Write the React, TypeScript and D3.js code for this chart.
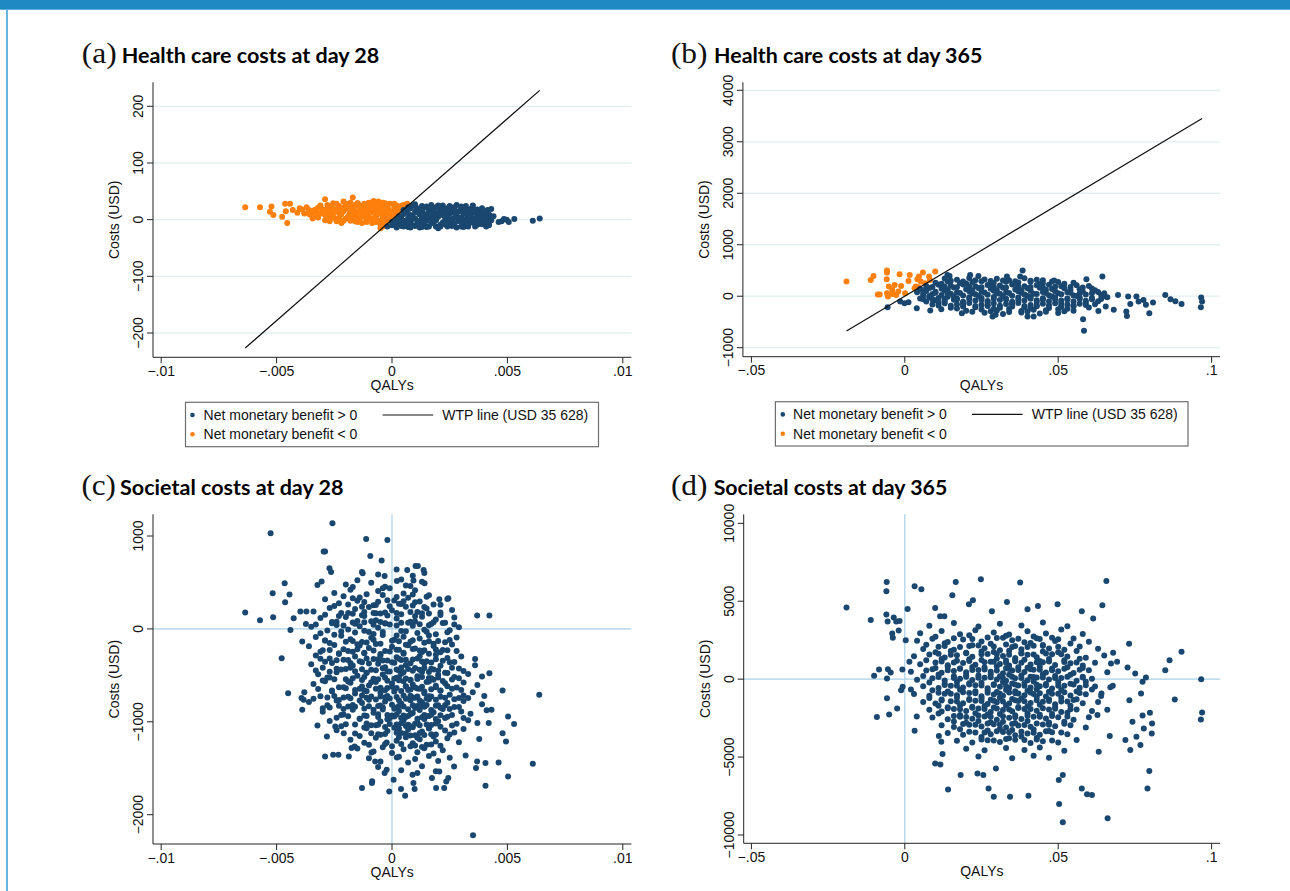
import React, { useEffect, useRef } from "react";
import * as d3 from "d3";

// willingness-to-pay threshold, USD per QALY
const WTP = 35628;
const NAVY = "#1a476f";
const ORANGE = "#fd7f0c";

type Pt = [number, number]; // [QALYs, costs USD]

// (a) health care costs at day 28
const healthDay28: Pt[] = [
  [-.00636,22],[-.00572,22],[-.00522,23],[-.00529,14],[-.00514,8],[-.00476,5],[-.00463,28],[-.00442,28],[-.00454,-6],[-.0046,15],
  [-.0043,17],[-.0041,12],[-.004,20],[-.0039,18],[-.0038,11],[-.0037,22],[-.0036,17],[-.0035,8],[-.00344,2],[-.0033,14],
  [-.0032,21],[-.00317,11],[-.0031,25],[-.003,18],[-.0029,36],[-.0029,-1],[-.0029,8],[-.0028,14],[-.0027,22],[-.0026,5],
  [-.00255,29],[-.00255,11],[-.0025,18],[-.0024,-3],[-.00237,17],[-.0023,24],[-.0022,9],[-.00219,-6],[-.0021,15],[-.00201,28],
  [-.002,2],[-.0019,20],[-.00184,11],[-.0018,-2],[-.0017,39],[-.0017,6],[-.00166,20],[-.0016,26],[-.0016,14],[-.0015,-4],
  [-.00148,29],[-.0015,9],[-.0014,17],[-.0014,1],[-.0013,-6],[-.0013,17],[-.0013,24],[-.0012,11],[-.0012,5],[-.0011,21],
  [-.0011,-2],[-.00103,8],[-.001,30],[-.001,15],[-.00094,29],[-.0009,2],[-.00086,-6],[-.0008,12],[-.00077,20],[-.0007,25],
  [-.0007,6],[-.0006,-2],[-.00059,32],[-.0006,16],[-.0005,11],[-.0005,22],[-.0004,3],[-.00041,23],[-.0004,-5],[-.0003,14],
  [-.0003,27],[-.0003,8],[-.00023,-1],[-.0002,19],[-.00014,17],[-.0001,10],[-.0001,2],[-.0001,28],[0,14],[0,5],
  [.0001,22],[.00012,11],[.0002,18],[.0002,25],[.0003,20],[.0003,13],[.0004,24],[.0004,17],[.0005,22],[.0005,26],
  [.00057,26],[.00066,28],[-.0009,24],[-.0011,13],[-.0017,23],[-.0019,4],[-.0021,21],[-.0023,12],[-.0025,3],[-.0027,17],
  [-.0033,18],[-.0034,5],[-.0021,32],[-.0018,30],[-.0008,33],[-.0006,28],[-.0004,30],[-.0012,28],[-.0014,10],[-.0007,-4],
  [-.0005,-8],[-.0002,-6],[-.0028,26],
  [-.0032,4],[-.0027,5],[-.0023,3],[-.0019,5],[-.0015,4],[-.0011,3],[-.0007,5],[-.0003,4],
  [-.0036,10],[-.0031,11],[-.0026,9],[-.0022,11],[-.0018,10],[-.0014,9],[-.001,11],[-.0006,10],[-.0002,9],[.0001,11],
  [-.0034,16],[-.0029,17],[-.0025,15],[-.0021,16],[-.0017,17],[-.0013,15],[-.0009,16],[-.0005,17],[-.0001,15],[.0002,16],
  [-.0031,22],[-.0026,23],[-.0022,21],[-.0018,22],[-.0014,23],[-.001,21],[-.0006,22],[-.0002,23],[.0003,22],
  [-.0024,28],[-.0019,27],[-.0015,29],[-.0011,28],[-.0007,27],[-.0003,29],[.0001,28],
  [-.0027,-3],[-.0021,-2],[-.0016,-3],[-.0011,-4],[-.0008,-2],[-.0004,-1],
  [-.0005,-15],[-.0004,-12],[-.0002,-12],[0,-10],[0,-4],[.0001,-8],[.0002,0],[.0002,-14],[.0003,-6],[.0004,4],
  [.0004,-11],[.0005,-2],[.0005,10],[.0006,-8],[.0006,14],[.0007,3],[.0007,-13],[.0008,20],[.0008,8],[.0008,-4],
  [.0009,25],[.0009,-10],[.001,14],[.001,2],[.001,27],[.0011,-6],[.0011,20],[.0012,9],[.0012,-14],[.0013,16],
  [.0013,1],[.0013,24],[.0014,-8],[.0014,10],[.0015,21],[.0015,-2],[.0015,5],[.0016,13],[.0016,-12],[.0017,26],
  [.0017,3],[.0018,17],[.0018,-6],[.0018,9],[.0019,22],[.0019,-1],[.002,12],[.002,-15],[.002,5],[.0021,19],
  [.0021,-9],[.0022,8],[.0022,25],[.0023,0],[.0023,14],[.0024,-12],[.0024,20],[.0024,6],[.0025,-4],[.0025,11],
  [.0026,17],[.0026,-9],[.0027,3],[.0027,22],[.0028,-14],[.0028,9],[.0029,15],[.0029,-3],[.003,4],[.003,20],
  [.0031,-8],[.0031,11],[.0032,24],[.0032,1],[.0033,14],[.0033,-12],[.0034,7],[.0034,19],[.0035,-5],[.0035,12],
  [.0036,2],[.0036,17],[.0037,-9],[.0037,9],[.0038,14],[.0038,-2],[.0039,5],[.0039,20],[.004,-4],[.004,11],
  [.0041,2],[.0041,15],[.0042,-10],[.0042,8],[.0043,19],[.0043,-1],[.0044,6],[.00414,17],[.00422,8],[.00408,-12],
  [.00462,-4],[.00475,-3],[.00497,0],[.00506,-4],[.0053,1],[.0061,-2],[.0064,2],[.00485,1],
  [.0008,-14],[.0012,-2],[.0016,5],[.002,24],[.0026,1],[.003,-12],[.0034,-5],[.0005,17],[.0007,22],[.0011,13],
  [.0019,-12],[.0023,-8],[.0027,12],[.0031,-2],[.0035,24],[.0039,-8],[.0041,-6],[.0028,26],[.0013,-13],[.0009,5],
  [.0005,-12],[.001,-11],[.0015,-13],[.0021,-12],[.0026,-11],[.0031,-13],[.0036,-12],
  [.0002,-6],[.0007,-5],[.0012,-7],[.0017,-6],[.0022,-5],[.0027,-7],[.0032,-6],[.0037,-5],[.0042,-7],
  [.0004,0],[.0009,1],[.0014,-1],[.0019,0],[.0024,1],[.0029,-1],[.0034,0],[.0039,1],
  [.0003,6],[.0008,7],[.0013,5],[.0018,6],[.0023,7],[.0028,5],[.0033,6],[.0038,7],[.0043,5],
  [.0006,12],[.0011,13],[.0016,11],[.0021,12],[.0026,13],[.0031,11],[.0036,12],[.0041,13],
  [.0007,18],[.0012,19],[.0017,17],[.0022,18],[.0027,19],[.0032,17],[.0037,18],
  [.001,24],[.0015,23],[.002,25],[.0025,24],[.003,23],[.0035,25]
];

// (b) health care costs at day 365
const healthDay365: Pt[] = [
  [-.019,285],[-.0111,317],[-.0102,395],[-.0058,498],[-.0058,460],[-.0059,330],[-.0052,188],[-.0088,32],[-.0082,32],[-.0055,-6],
  [-.0041,123],[-.0033,220],[-.0028,26],[-.0017,427],[-.0012,200],[.0001,58],[.0012,298],[.0016,414],[.0032,155],[.0041,330],
  [.0046,382],[.0052,285],[.0059,460],[.0066,252],[.0079,382],[.0099,479],[.0082,317],[.0044,175],[.0036,188],[-.0021,91],
  [-.0039,45],[-.0058,58],
  [-.0056,-214],[-.0015,-104],[-.0001,-136],[.0012,-117],[.0039,-233],[.0083,-278],[.0119,-252],[.0139,414],[.0146,395],[.0186,-330],
  [.0213,414],[.024,395],[.0286,-395],[.0296,-362],[.0333,382],[.0384,498],[.0376,382],[.04,-395],[.042,-395],[.0487,304],
  [.0581,-447],[.0584,-673],[.0592,330],[.0644,382],[.0695,26],[.0724,-382],[.0728,-6],[.0755,-6],[.0735,-149],[.0762,-104],
  [.0778,-71],[.0786,-168],[.0797,-330],[.0809,-123],[.0849,26],[.0866,-58],[.0882,-97],[.0902,-149],[.0966,-26],[.0969,-104],
  [.0965,-214],[.0722,-298],[.0681,-265],[.0655,-200],[.0631,-285],
  [.013,345],[.017,318],[.021,352],[.026,326],[.03,340],[.034,312],[.039,348],[.043,322],
  [.01,262],[.014,284],[.018,255],[.022,278],[.025,290],[.029,258],[.033,281],[.037,266],[.041,288],[.045,252],[.05,275],[.055,260],
  [.007,198],[.011,222],[.015,205],[.019,230],[.023,194],[.027,218],[.031,207],[.035,226],[.039,196],[.043,215],[.047,224],[.051,192],[.056,212],[.06,200],
  [.005,138],[.008,162],[.012,145],[.016,170],[.02,134],[.024,158],[.028,147],[.032,166],[.036,131],[.04,155],[.044,164],[.048,140],[.052,156],[.057,136],[.061,150],
  [.004,78],[.007,102],[.01,85],[.013,110],[.017,74],[.021,98],[.025,87],[.029,106],[.033,71],[.037,95],[.041,104],[.045,80],[.049,96],[.053,76],[.058,92],[.063,84],
  [.006,18],[.009,42],[.012,25],[.015,50],[.019,14],[.023,38],[.027,27],[.031,46],[.035,11],[.039,35],[.043,44],[.047,20],[.051,36],[.055,16],[.059,32],[.064,24],
  [.005,-42],[.008,-18],[.011,-35],[.014,-10],[.017,-46],[.021,-22],[.025,-33],[.029,-14],[.033,-49],[.037,-25],[.041,-16],[.045,-40],[.049,-24],[.053,-44],[.057,-28],[.061,-36],[.066,-20],
  [.007,-102],[.01,-78],[.013,-95],[.016,-70],[.019,-106],[.023,-82],[.027,-93],[.031,-74],[.035,-109],[.039,-85],[.043,-76],[.047,-100],[.051,-84],[.055,-104],[.059,-88],[.063,-96],
  [.009,-162],[.013,-138],[.017,-155],[.021,-130],[.025,-166],[.029,-142],[.033,-153],[.037,-134],[.041,-169],[.045,-145],[.049,-136],[.053,-160],[.057,-144],[.062,-158],
  [.015,-222],[.019,-198],[.023,-215],[.027,-190],[.031,-226],[.035,-202],[.039,-213],[.043,-194],[.047,-229],[.051,-205],[.055,-196],[.06,-220],
  [.02,-282],[.025,-258],[.03,-275],[.034,-250],[.038,-286],[.042,-262],[.046,-273],[.05,-254],[.055,-280],
  [.026,-322],[.032,-345],[.038,-318],[.044,-338],[.05,-326],
  [.012,240],[.02,246],[.028,236],[.036,244],[.044,238],[.052,242],
  [.006,118],[.014,124],[.022,116],[.03,122],[.038,114],[.046,126],[.054,120],[.062,117],
  [.008,2],[.016,-4],[.024,6],[.032,-2],[.04,4],[.048,-6],[.056,3],[.065,-1],
  [.011,-118],[.019,-124],[.027,-116],[.035,-122],[.043,-114],[.051,-126],[.059,-120],
  [.017,-238],[.029,-244],[.041,-236],[.053,-242],
  [.015,302],[.019,288],[.023,310],[.028,295],[.032,305],[.036,290],[.041,300],[.045,312],[.048,286],
  [.009,178],[.013,186],[.017,172],[.021,190],[.025,176],[.029,184],[.033,170],[.037,188],[.041,180],[.045,174],[.049,186],[.054,178],[.058,170],
  [.006,58],[.01,66],[.014,52],[.018,64],[.022,56],[.026,70],[.03,54],[.034,62],[.038,68],[.042,50],[.046,64],[.05,58],[.054,66],[.057,52],[.061,60],[.065,56],
  [.006,-58],[.009,-66],[.013,-52],[.017,-64],[.021,-56],[.025,-70],[.029,-54],[.033,-62],[.037,-68],[.041,-50],[.045,-64],[.049,-58],[.053,-66],[.057,-52],[.061,-60],[.064,-56],
  [.011,-178],[.015,-186],[.019,-172],[.023,-190],[.027,-176],[.031,-184],[.035,-170],[.039,-188],[.043,-180],[.047,-174],[.051,-186],[.055,-178],[.059,-170],
  [.022,-302],[.028,-290],[.034,-308],[.04,-296],[.046,-304],[.052,-292]
];

// (c) societal costs at day 28
const societalDay28: Pt[] = [
  [-.00636,176],[-.00572,93],[-.00526,1029],[-.00517,384],[-.00515,125],[-.00465,491],[-.00463,287],[-.00444,369],[-.0044,-11],[-.00478,-315],
  [-.0045,-692],[-.00426,115],[-.00397,186],[-.00389,-136],[-.00389,-871],[-.00392,-745],[-.00383,-763],[-.00373,54],[-.00371,186],[-.00323,473],
  [-.00305,509],[-.00296,832],[-.0029,832],[-.00271,652],[-.00264,613],[-.00258,1136],[-.0029,-1373],[-.00255,-1355],[-.00232,-1355],[-.00323,-1039],
  [-.00282,-1158],[-.003,-853],[-.00246,-1050],[-.00209,-1122],[-.00187,-1373],[-.0013,-1713],[-.00086,-1641],[-.00087,-1659],[-.00112,968],[-.0002,957],
  [-.00094,785],[-.00045,735],[-.00127,599],[-.00032,570],[.00066,634],[.00102,677],[.00112,677],[.00137,634],[.00021,516],[.00093,520],
  [.00141,491],[.00205,319],[.00244,330],[.00369,143],[.00422,143],[.0036,-323],[.00422,-477],[.0039,-513],[.00479,-663],[.00638,-710],
  [.00431,-871],[.00419,-1014],[.00503,-943],[.00529,-1025],[.00479,-1122],[.00494,-1211],[.00378,-1186],[.00369,-1427],[.00405,-1444],[.00462,-1437],
  [.0061,-1452],[.00503,-1588],[.00364,-1498],[.00405,-1688],[.00351,-2222],[.00319,-1362],[.00269,-1480],[.00244,-1606],[.00226,-1713],[.00235,-1642],
  [.00191,-1713],[.00173,-1606],[.00205,-1534],[.0011,-1552],[.00089,-1570],[.00093,-1659],[.00098,-1724],[.00039,-1724],[.00057,-1796],[-.00012,-1749],
  [.00007,-1624],[-.00023,-1516],[-.00032,-1552],[.00021,-1384],[-.00023,-1222],[-.00175,-1283],[-.00162,-1265],[-.00089,-1330],[-.00073,-1427],
  [-.0013,612],[-.0006,585],[.0002,640],[.0009,571],[.0014,603],
  [-.002,478],[-.0015,523],[-.0009,497],[-.0003,455],[.0004,531],[.0008,462],[.0013,508],
  [-.0025,386],[-.0018,421],[-.0011,372],[-.0006,409],[-.0001,437],[.0005,381],[.001,415],[.0016,362],
  [-.0029,318],[-.0023,276],[-.0017,331],[-.0012,289],[-.0008,254],[-.0002,308],[.0003,272],[.0007,336],[.0012,295],[.0018,263],[.0024,322],
  [-.0034,188],[-.0027,226],[-.0022,171],[-.0016,214],[-.001,236],[-.0005,165],[0,202],[.0006,238],[.0011,183],[.0015,219],[.0021,176],[.0026,204],
  [-.0031,117],[-.0026,73],[-.002,128],[-.0015,86],[-.0012,139],[-.0007,94],[-.0003,61],[.0002,113],[.0008,78],[.0013,132],[.0019,101],[.0023,66],[.0027,122],
  [-.0035,23],[-.0028,-18],[-.0024,41],[-.0019,-7],[-.0014,28],[-.001,-34],[-.0006,12],[-.0001,47],[.0004,-22],[.0009,33],[.0014,-9],[.0017,52],[.0025,-15],[.0029,18],
  [-.0033,-88],[-.0029,-126],[-.0022,-73],[-.0018,-112],[-.0013,-141],[-.0009,-95],[-.0004,-67],[.0001,-118],[.0005,-84],[.0008,-137],[.0012,-102],[.0016,-71],[.002,-129],[.0028,-93],
  [-.0036,-187],[-.003,-231],[-.0025,-172],[-.0021,-219],[-.0017,-245],[-.0014,-178],[-.001,-206],[-.0007,-163],[-.0003,-238],[0,-191],[.0003,-224],[.0007,-176],[.001,-212],[.0013,-249],[.0018,-184],[.0022,-228],[.0026,-169],
  [-.0033,-286],[-.0027,-318],[-.0023,-271],[-.0019,-334],[-.0016,-297],[-.0012,-262],[-.0008,-325],[-.0005,-284],[-.0002,-341],[.0002,-305],[.0005,-268],[.0009,-329],[.0012,-291],[.0015,-348],[.0019,-277],[.0024,-312],[.003,-296],
  [-.0035,-381],[-.003,-417],[-.0026,-368],[-.002,-432],[-.0017,-395],[-.0013,-358],[-.0009,-441],[-.0006,-376],[-.0003,-412],[.0001,-365],[.0003,-447],[.0006,-388],[.001,-421],[.0014,-372],[.0018,-438],[.0021,-396],[.0025,-359],[.0029,-427],[.0036,-391],
  [-.0032,-488],[-.0028,-524],[-.0024,-467],[-.002,-541],[-.0015,-503],[-.0011,-472],[-.0008,-536],[-.0004,-491],[-.0001,-458],[.0002,-527],[.0004,-482],[.0008,-548],[.0011,-509],[.0013,-463],[.0017,-531],[.002,-494],[.0024,-476],[.0027,-518],[.0033,-486],
  [-.0034,-592],[-.0029,-563],[-.0023,-627],[-.0018,-581],[-.0014,-644],[-.001,-608],[-.0007,-571],[-.0002,-635],[0,-589],[.0003,-552],[.0006,-621],[.0009,-598],[.0012,-643],[.0016,-567],[.0019,-612],[.0023,-584],[.0028,-631],[.0031,-576],[.0037,-605],
  [-.0038,-683],[-.0031,-724],[-.0026,-671],[-.0021,-738],[-.0016,-695],[-.0012,-662],[-.0009,-729],[-.0005,-687],[-.0001,-748],[.0001,-674],[.0005,-716],[.0007,-658],[.001,-741],[.0014,-693],[.0017,-727],[.0021,-666],[.0025,-709],[.0029,-745],[.0035,-681],[.004,-723],
  [-.0036,-788],[-.0028,-823],[-.0024,-771],[-.0019,-836],[-.0013,-797],[-.001,-762],[-.0006,-829],[-.0003,-781],[.0002,-846],[.0004,-804],[.0008,-767],[.0011,-831],[.0013,-789],[.0016,-758],[.002,-822],[.0024,-794],[.0027,-841],[.0031,-776],[.0039,-812],
  [-.003,-893],[-.0022,-926],[-.0017,-871],[-.0011,-938],[-.0008,-902],[-.0004,-867],[0,-931],[.0003,-884],[.0006,-947],[.0009,-906],[.0012,-873],[.0015,-941],[.0018,-897],[.0022,-862],[.0026,-928],[.003,-889],[.0034,-914],[.0041,-876],
  [-.0027,-992],[-.002,-1026],[-.0014,-968],[-.0009,-1038],[-.0005,-997],[-.0001,-963],[.0002,-1029],[.0005,-986],[.0008,-1047],[.0011,-1004],[.0014,-971],[.0017,-1035],[.002,-994],[.0023,-958],[.0028,-1021],[.0033,-983],[.0037,-1012],
  [-.0024,-1091],[-.0016,-1127],[-.0011,-1069],[-.0006,-1134],[-.0002,-1098],[.0001,-1063],[.0004,-1121],[.0007,-1082],[.001,-1145],[.0013,-1104],[.0016,-1072],[.0019,-1138],[.0023,-1093],[.0027,-1116],[.0031,-1078],
  [-.0018,-1193],[-.0012,-1226],[-.0007,-1171],[-.0003,-1238],[.0002,-1204],[.0006,-1167],[.0009,-1232],[.0012,-1189],[.0015,-1247],[.0019,-1211],[.0024,-1176],[.0029,-1219],
  [-.0015,-1288],[-.0008,-1321],[-.0004,-1273],[0,-1336],[.0005,-1296],[.0008,-1262],[.0011,-1328],[.0014,-1284],[.0018,-1341],[.0022,-1307],
  [-.001,-1392],[-.0005,-1428],[.0003,-1376],[.0007,-1437],[.001,-1401],[.0016,-1369],[.002,-1423],[.0025,-1388],
  [-.0006,-1487],[.0004,-1522],[.0013,-1478],[.0019,-1531],
  [-.0017,452],[-.0004,438],[.0006,466],
  [-.0021,352],[-.0014,338],[-.0004,366],[.0002,344],[.0009,371],[.0015,347],
  [-.0025,246],[-.0019,262],[-.0013,238],[-.0007,257],[-.0001,243],[.0004,268],[.0009,251],[.0014,236],[.0021,259],
  [-.0029,152],[-.0023,138],[-.0017,164],[-.0013,147],[-.0008,171],[-.0002,143],[.0004,158],[.001,136],[.0016,166],[.0021,149],
  [-.0033,48],[-.0026,62],[-.0021,37],[-.0016,55],[-.0012,71],[-.0008,44],[-.0003,58],[.0002,36],[.0007,66],[.0012,51],[.0016,39],[.0022,63],[.0027,47],
  [-.0031,-47],[-.0025,-62],[-.0016,-38],[-.0008,-55],[.0002,-71],[.0011,-44],[.0019,-58],[.0024,-36],
  [-.0027,-152],[-.002,-138],[-.0015,-166],[-.0011,-147],[-.0005,-159],[.0003,-134],[.0006,-171],[.0014,-149],[.0018,-161],[.0023,-143],
  [-.0031,-246],[-.0023,-263],[-.0019,-237],[-.0012,-258],[-.0005,-271],[-.0001,-244],[.0005,-256],[.0012,-233],[.0016,-267],[.0021,-251],[.0028,-239],
  [-.0029,-353],[-.0024,-338],[-.0018,-366],[-.0014,-347],[-.001,-372],[-.0004,-341],[0,-358],[.0004,-334],[.0008,-369],[.0013,-351],[.0017,-362],[.0022,-343],[.0027,-357],
  [-.0033,-447],[-.0027,-462],[-.0022,-438],[-.0016,-455],[-.0011,-471],[-.0007,-444],[-.0002,-458],[.0002,-436],[.0005,-466],[.0009,-451],[.0012,-439],[.0016,-463],[.002,-448],[.0023,-472],[.0031,-453],
  [-.003,-556],[-.0025,-541],[-.0019,-567],[-.0013,-549],[-.0009,-574],[-.0006,-543],[-.0002,-559],[.0001,-536],[.0005,-564],[.0008,-552],[.0011,-539],[.0015,-571],[.0018,-547],[.0022,-561],[.0026,-544],
  [-.0032,-648],[-.0026,-663],[-.002,-639],[-.0016,-657],[-.0011,-672],[-.0007,-645],[-.0003,-661],[.0002,-637],[.0004,-668],[.0008,-652],[.0011,-641],[.0014,-674],[.0017,-649],[.0021,-663],[.0026,-643],[.003,-658],
  [-.0034,-753],[-.0028,-738],[-.0023,-766],[-.0018,-747],[-.0014,-771],[-.0011,-742],[-.0007,-759],[-.0003,-736],[.0003,-768],[.0006,-751],[.0009,-739],[.0012,-772],[.0015,-748],[.0019,-762],[.0023,-741],[.0027,-757],[.0033,-745],
  [-.0027,-847],[-.0021,-861],[-.0016,-838],[-.0012,-856],[-.0008,-871],[-.0004,-843],[.0001,-859],[.0005,-836],[.0007,-866],[.001,-851],[.0014,-839],[.0017,-873],[.0021,-848],[.0025,-862],[.0029,-841],
  [-.0024,-956],[-.0019,-941],[-.0014,-967],[-.0006,-948],[-.0002,-972],[.0001,-943],[.0004,-959],[.0007,-937],[.0011,-966],[.0013,-951],[.0016,-938],[.0019,-969],[.0024,-946],[.0031,-958],
  [-.0022,-1047],[-.0012,-1062],[-.0007,-1038],[-.0003,-1056],[.0003,-1071],[.0006,-1044],[.0009,-1059],[.0012,-1036],[.0016,-1066],[.0021,-1052],[.0026,-1041],
  [-.0014,-1153],[-.0005,-1139],[.0003,-1166],[.0008,-1148],[.0011,-1171],[.0014,-1142],[.0018,-1158],[.0025,-1137],
  [-.001,-1248],[0,-1262],[.0004,-1239],[.001,-1256],[.0013,-1271],[.0017,-1244],[.0021,-1259],
  [-.0022,-28],[-.0012,-19],[-.0004,-33],[.0006,-24],[.0015,-31],
  [-.0029,-124],[-.0017,-131],[-.0008,-118],[0,-127],[.0009,-121],[.0016,-133],[.0025,-119],
  [-.0027,-228],[-.0015,-219],[-.0008,-233],[.0002,-224],[.0009,-216],[.0014,-231],[.0019,-222],[.0024,-229],
  [-.0031,-322],[-.0021,-331],[-.0011,-318],[-.0006,-327],[.0003,-321],[.0006,-333],[.0011,-319],[.0019,-328],
  [-.0024,-428],[-.0018,-419],[-.0013,-433],[-.0004,-424],[.0004,-416],[.0007,-431],[.0014,-422],[.0017,-429],[.0026,-418],
  [-.0027,-522],[-.0017,-531],[-.0012,-518],[-.0003,-527],[.0003,-521],[.0006,-533],[.0013,-519],[.0016,-528],[.002,-524],[.0029,-530],
  [-.0021,-628],[-.0013,-619],[-.0005,-633],[0,-624],[.0006,-616],[.001,-631],[.0013,-622],[.0019,-629],[.0024,-618],
  [-.0025,-722],[-.0019,-731],[-.0013,-718],[-.0005,-727],[-.0002,-721],[.0002,-733],[.0008,-719],[.0011,-728],[.0016,-724],[.0021,-730],[.0031,-717],
  [-.0023,-828],[-.0017,-819],[-.001,-833],[-.0005,-824],[0,-816],[.0003,-831],[.0009,-822],[.0012,-829],[.0015,-818],[.0019,-827],[.0023,-821],
  [-.0021,-922],[-.0012,-931],[-.0006,-918],[-.0002,-927],[.0002,-921],[.0005,-933],[.0008,-919],[.0014,-928],[.0017,-924],[.0021,-930],
  [-.0016,-1028],[-.0011,-1019],[-.0006,-1033],[-.0001,-1024],[.0004,-1016],[.0007,-1031],[.001,-1022],[.0015,-1029],[.0019,-1018],
  [-.0009,-1122],[-.0003,-1131],[.0002,-1118],[.0006,-1127],[.0012,-1121],[.0017,-1133],
  [-.0024,78],[-.0017,69],[-.0009,83],[-.0005,74],[.0004,66],[.001,81],[.0018,72],
  [-.0019,172],[-.0012,181],[-.0007,168],[-.0003,177],[.0002,171],[.0008,183],[.0013,169],
  [-.0015,302],[-.0006,291],[.0001,306],[.0005,297],[.001,288]
];

// (d) societal costs at day 365
const societalDay365: Pt[] = [
  [-.019,4594],[-.0111,3803],[-.01,214],[-.0091,-2436],[-.0084,620],[-.0059,6239],[-.006,5641],[-.006,4145],[-.0056,3697],[-.0058,43],
  [-.0058,-1218],[-.0055,641],[-.0051,-2265],[-.0046,427],[-.0041,2927],[-.0039,2650],[-.0036,3953],[-.0028,3697],[-.0025,-1880],[-.002,3120],
  [-.0017,3739],[-.0008,620],[-.0012,-705],[-.0007,-491],[.0003,2500],[.0009,4509],[.0015,1111],[.002,-662],[.0032,5962],[.0032,-3312],
  [.0039,-2393],[.0054,5769],[.0099,4573],[.0099,-5406],[.0116,-5470],[.0111,-3654],[.0119,-4017],[.0123,-4808],[.0141,-7073],[.0115,4038],
  [.0129,4038],[.0155,5385],[.0166,6239],[.0182,-6154],[.0209,4808],[.0222,5064],[.0237,-6047],[.0248,6410],[.0256,-6154],[.0273,-7009],
  [.029,-7543],[.0297,-5726],[.0284,4359],[.0333,4957],[.0343,-7543],[.0376,6197],[.0403,-7479],[.04,4487],[.0434,4701],[.0498,4808],
  [.0502,-6474],[.0503,-8013],[.0515,-9188],[.0515,-6154],[.0577,4359],[.0577,-7009],[.0594,-7393],[.061,-7436],[.0614,3889],[.0644,4744],
  [.0657,6303],[.0661,-8932],[.0731,2265],[.0726,748],[.0719,-3910],[.0735,-4551],[.0732,-1346],[.0751,363],[.0742,-2735],[.0755,-3697],
  [.0768,-4231],[.0775,-2329],[.0779,-3162],[.0775,-171],[.0786,107],[.077,-919],[.0799,-2158],[.0806,-2842],[.0805,-3483],[.0797,-5897],
  [.0791,-7009],[.0849,577],[.0863,1218],[.088,-1303],[.0902,1752],[.0966,0],[.0969,-2137],[.0965,-2585],[.0679,1688],[.0692,1111],
  [.0672,1004],[.0678,-427],[.0668,-3654],[.0632,-4658],[.0628,-2308],[.0641,-919],
  [.008,3420],[.016,3610],[.024,3380],[.031,3560],[.038,3450],[.045,3630],[.053,3390],
  [.005,2950],[.012,3090],[.018,2880],[.023,3140],[.029,2990],[.034,2860],[.04,3070],[.046,2930],[.051,3180],[.058,2900],
  [.004,2460],[.009,2590],[.014,2380],[.019,2550],[.025,2420],[.03,2640],[.035,2490],[.039,2360],[.044,2570],[.049,2440],[.055,2610],[.06,2400],
  [.006,1940],[.011,2080],[.016,1890],[.021,2130],[.026,1980],[.031,1860],[.035,2060],[.038,1920],[.042,2150],[.047,1970],[.052,1880],[.057,2090],[.063,1950],
  [.003,1470],[.008,1580],[.013,1390],[.017,1540],[.022,1430],[.027,1620],[.032,1480],[.036,1360],[.04,1560],[.043,1410],[.048,1590],[.053,1450],[.059,1370],[.065,1520],
  [.005,960],[.01,1070],[.014,890],[.019,1040],[.023,930],[.028,1110],[.031,980],[.034,870],[.038,1060],[.041,940],[.045,1090],[.049,910],[.054,1020],[.058,880],[.062,1050],
  [.002,470],[.007,560],[.012,410],[.016,530],[.02,440],[.024,590],[.028,480],[.032,380],[.035,550],[.039,460],[.042,600],[.046,420],[.05,510],[.055,390],[.06,570],[.066,450],
  [.004,-40],[.009,60],[.013,-90],[.018,30],[.022,-60],[.026,90],[.03,-20],[.033,-110],[.036,50],[.04,-70],[.043,100],[.047,-30],[.051,70],[.056,-100],[.061,20],
  [.006,-460],[.011,-570],[.015,-420],[.019,-530],[.023,-390],[.027,-590],[.031,-480],[.034,-560],[.037,-410],[.041,-540],[.044,-450],[.048,-600],[.052,-430],[.057,-550],[.062,-470],[.067,-520],
  [.003,-960],[.008,-1070],[.013,-930],[.017,-1040],[.021,-890],[.025,-1100],[.029,-980],[.032,-1060],[.036,-910],[.039,-1030],[.042,-950],[.046,-1110],[.05,-940],[.054,-1050],[.059,-970],[.064,-1080],
  [.006,-1460],[.01,-1570],[.015,-1420],[.019,-1540],[.023,-1390],[.027,-1600],[.03,-1480],[.034,-1560],[.037,-1410],[.041,-1530],[.045,-1450],[.049,-1610],[.053,-1440],[.058,-1550],[.063,-1470],
  [.008,-1960],[.012,-2070],[.016,-1920],[.02,-2040],[.024,-1890],[.028,-2100],[.032,-1980],[.035,-2060],[.039,-1910],[.043,-2030],[.047,-1950],[.051,-2110],[.056,-1940],[.061,-2050],[.066,-1970],
  [.009,-2460],[.014,-2570],[.018,-2420],[.022,-2540],[.026,-2390],[.03,-2600],[.034,-2480],[.038,-2560],[.042,-2410],[.046,-2530],[.05,-2450],[.055,-2610],[.06,-2440],
  [.012,-2960],[.016,-3070],[.021,-2920],[.025,-3040],[.029,-2890],[.033,-3100],[.037,-2980],[.041,-3060],[.045,-2910],[.049,-3030],[.054,-2950],[.059,-3110],
  [.014,-3460],[.019,-3570],[.023,-3420],[.028,-3540],[.032,-3390],[.036,-3600],[.04,-3480],[.044,-3560],[.048,-3410],[.053,-3530],
  [.017,-3960],[.022,-4070],[.027,-3920],[.031,-4040],[.036,-3890],[.041,-4100],[.045,-3980],[.05,-4060],[.056,-3910],
  [.02,-4460],[.026,-4570],[.033,-4420],[.039,-4540],[.044,-4390],[.052,-4600],
  [.024,-4960],[.035,-5070],[.042,-4920],[.047,-5040],
  [.01,2720],[.021,2810],[.027,2680],[.033,2790],[.042,2740],[.048,2660],
  [.007,2210],[.013,2300],[.022,2180],[.028,2270],[.033,2230],[.041,2320],[.045,2190],[.054,2280],
  [.01,1720],[.015,1800],[.02,1690],[.025,1780],[.029,1740],[.034,1820],[.038,1700],[.045,1770],[.05,1730],[.056,1810],
  [.007,1210],[.012,1300],[.017,1180],[.021,1270],[.025,1230],[.03,1320],[.033,1190],[.036,1280],[.039,1240],[.044,1170],[.047,1290],[.052,1220],[.057,1310],
  [.01,720],[.014,800],[.018,690],[.022,780],[.026,740],[.03,820],[.033,700],[.037,770],[.04,730],[.044,810],[.048,680],[.053,760],[.058,720],
  [.006,210],[.011,300],[.016,180],[.02,270],[.024,230],[.028,320],[.031,190],[.034,280],[.038,240],[.041,150],[.045,310],[.049,200],[.054,290],[.058,160],
  [.008,-210],[.013,-300],[.017,-180],[.021,-270],[.025,-230],[.029,-320],[.032,-190],[.035,-280],[.039,-240],[.042,-150],[.046,-310],[.05,-200],[.054,-290],[.059,-160],
  [.009,-710],[.014,-800],[.018,-680],[.023,-770],[.027,-730],[.03,-820],[.033,-690],[.036,-780],[.04,-740],[.043,-650],[.047,-810],[.051,-700],[.056,-790],[.061,-660],
  [.008,-1210],[.012,-1300],[.017,-1180],[.021,-1270],[.025,-1230],[.028,-1320],[.031,-1190],[.035,-1280],[.038,-1240],[.043,-1150],[.047,-1310],[.051,-1200],[.056,-1290],
  [.011,-1710],[.014,-1800],[.018,-1680],[.022,-1770],[.026,-1730],[.029,-1820],[.033,-1690],[.037,-1780],[.04,-1740],[.044,-1650],[.049,-1810],[.054,-1700],
  [.011,-2210],[.018,-2300],[.023,-2180],[.027,-2270],[.031,-2230],[.036,-2320],[.04,-2190],[.044,-2280],[.048,-2240],[.053,-2150],
  [.016,-2710],[.02,-2800],[.024,-2680],[.028,-2770],[.032,-2730],[.036,-2820],[.04,-2690],[.047,-2780],[.052,-2740],
  [.018,-3210],[.027,-3300],[.031,-3180],[.035,-3270],[.042,-3230],[.047,-3320],
  [.025,-3710],[.034,-3800],[.038,-3680],[.043,-3770],
  [.016,2630],[.022,2570],[.032,2660],[.037,2590],[.043,2620],[.05,2560],
  [.013,2130],[.018,2070],[.024,2160],[.029,2090],[.036,2120],[.04,2060],[.045,2150],[.05,2080],
  [.011,1630],[.015,1570],[.02,1660],[.025,1590],[.03,1620],[.034,1560],[.038,1650],[.042,1580],[.046,1640],[.051,1600],
  [.012,1130],[.016,1070],[.021,1160],[.026,1090],[.029,1120],[.033,1060],[.036,1150],[.043,1080],[.047,1140],[.052,1100],[.056,1070],
  [.009,630],[.014,570],[.018,660],[.022,590],[.026,620],[.03,560],[.034,650],[.037,580],[.041,640],[.044,600],[.048,570],[.052,660],[.057,610],
  [.011,130],[.016,70],[.02,160],[.024,90],[.028,120],[.032,60],[.035,150],[.038,80],[.042,140],[.045,100],[.049,70],[.053,160],[.058,110],
  [.013,-370],[.017,-430],[.021,-340],[.025,-410],[.029,-380],[.033,-440],[.036,-350],[.039,-420],[.043,-360],[.046,-400],[.05,-430],[.055,-340],[.059,-390],
  [.011,-870],[.015,-930],[.019,-840],[.023,-910],[.027,-880],[.031,-940],[.034,-850],[.037,-920],[.041,-860],[.044,-900],[.048,-930],[.052,-840],[.057,-890],
  [.012,-1370],[.017,-1430],[.021,-1340],[.025,-1410],[.029,-1380],[.032,-1440],[.036,-1350],[.039,-1420],[.043,-1360],[.047,-1400],[.051,-1430],[.055,-1340],
  [.014,-1870],[.018,-1930],[.022,-1840],[.026,-1910],[.03,-1880],[.034,-1940],[.037,-1850],[.041,-1920],[.045,-1860],[.049,-1900],[.054,-1930],
  [.016,-2370],[.02,-2430],[.024,-2340],[.028,-2410],[.032,-2380],[.036,-2440],[.04,-2350],[.044,-2420],[.048,-2360],[.053,-2400],
  [.019,-2870],[.023,-2930],[.027,-2840],[.031,-2910],[.035,-2880],[.039,-2940],[.043,-2850],[.047,-2920],[.052,-2860],
  [.021,-3370],[.026,-3430],[.03,-3340],[.034,-3410],[.038,-3380],[.042,-3440],[.046,-3350],[.051,-3420],
  [.025,-3870],[.029,-3930],[.033,-3840],[.039,-3910],[.043,-3880],[.048,-3940]
];

const qalyTicksDay28 = [-0.01, -0.005, 0, 0.005, 0.01];
const qalyLabelsDay28 = ["\u2212.01", "\u2212.005", "0", ".005", ".01"];
const qalyTicksDay365 = [-0.05, 0, 0.05, 0.1];
const qalyLabelsDay365 = ["\u2212.05", "0", ".05", ".1"];
const costTicksA = [-200, -100, 0, 100, 200];
const costTicksB = [-1000, 0, 1000, 2000, 3000, 4000];
const costTicksC = [-2000, -1000, 0, 1000];
const costTicksD = [-10000, -5000, 0, 5000, 10000];
const fmtCost = (v: number) => (v < 0 ? "\u2212" + Math.abs(v) : String(v));

const legendLabels = ["Net monetary benefit > 0", "Net monetary benefit < 0", "WTP line (USD 35 628)"];

const panels = [
  {
    letter: "(a)", title: "Health care costs at day 28", letterX: 81.7, letterW: 35, titleX: 121.7, titleW: 257.6, baseY: 63,
    left: 153, top: 82.3, right: 631.4, bottom: 357.3,
    xDomain: [-0.01, 0.01], xRange: [161.2, 622.8], yDomain: [-200, 200], yRange: [333, 106.3],
    xTicks: qalyTicksDay28, xLabels: qalyLabelsDay28, yTicks: costTicksA, data: healthDay28, wtp: true,
    legend: { x: 185.5, y: 402.3, w: 413, h: 44.4, dotX: 192.5, textX: 203.6, lineX1: 382.6, lineX2: 433.2, wtpX: 442.2 },
  },
  {
    letter: "(b)", title: "Health care costs at day 365", letterX: 670.9, letterW: 36.6, titleX: 714.1, titleW: 268.2, baseY: 63,
    left: 742.9, top: 82.3, right: 1220.1, bottom: 356.7,
    xDomain: [-0.05, 0.1], xRange: [751.4, 1211.6], yDomain: [-1000, 4000], yRange: [347.7, 90.3],
    xTicks: qalyTicksDay365, xLabels: qalyLabelsDay365, yTicks: costTicksB, data: healthDay365, wtp: true,
    legend: { x: 775.4, y: 401.7, w: 412.6, h: 44.3, dotX: 782.8, textX: 793.1, lineX1: 972, lineX2: 1022.6, wtpX: 1031.7 },
  },
  {
    letter: "(c)", title: "Societal costs at day 28", letterX: 81.4, letterW: 34.6, titleX: 120.1, titleW: 223.4, baseY: 495,
    left: 153, top: 514.3, right: 631.4, bottom: 844,
    xDomain: [-0.01, 0.01], xRange: [161.2, 622.8], yDomain: [-2000, 1000], yRange: [814.7, 536],
    xTicks: qalyTicksDay28, xLabels: qalyLabelsDay28, yTicks: costTicksC, data: societalDay28, wtp: false, legend: null,
  },
  {
    letter: "(d)", title: "Societal costs at day 365", letterX: 670.9, letterW: 36.6, titleX: 713.7, titleW: 233.6, baseY: 495,
    left: 743.7, top: 514.3, right: 1220.1, bottom: 843.3,
    xDomain: [-0.05, 0.1], xRange: [751.4, 1211.6], yDomain: [-10000, 10000], yRange: [835, 523.3],
    xTicks: qalyTicksDay365, xLabels: qalyLabelsDay365, yTicks: costTicksD, data: societalDay365, wtp: false, legend: null,
  },
];

const SANS = "'Liberation Sans', Arial, Helvetica, sans-serif";
const FS = 14;

export default function App() {
  const ref = useRef<SVGSVGElement>(null);

  useEffect(() => {
    const svg = d3.select(ref.current);
    svg.selectAll("*").remove();

    svg.append("rect").attr("width", 1290).attr("height", 891).attr("fill", "#fff");
    svg.append("rect").attr("width", 1290).attr("height", 9).attr("fill", "#1e8ac3");
    svg.append("rect").attr("y", 9).attr("width", 1290).attr("height", 1).attr("fill", "#5fade0");
    svg.append("rect").attr("x", 6).attr("y", 10).attr("width", 2).attr("height", 881).attr("fill", "#6ab5dd");

    panels.forEach((p) => {
      const g = svg.append("g");
      const x = d3.scaleLinear().domain(p.xDomain).range(p.xRange);
      const y = d3.scaleLinear().domain(p.yDomain).range(p.yRange);

      if (p.wtp) {
        g.append("g").selectAll("line").data(p.yTicks).join("line")
          .attr("x1", p.left).attr("x2", p.right)
          .attr("y1", (d) => y(d)).attr("y2", (d) => y(d))
          .attr("stroke", "#e4eef1").attr("stroke-width", 1.3);
      } else {
        g.append("line").attr("x1", p.left).attr("x2", p.right).attr("y1", y(0)).attr("y2", y(0))
          .attr("stroke", "#a9d1e6").attr("stroke-width", 1.2);
        g.append("line").attr("x1", x(0)).attr("x2", x(0)).attr("y1", p.top).attr("y2", p.bottom)
          .attr("stroke", "#a9d1e6").attr("stroke-width", 1.2);
      }

      g.append("g").selectAll("circle").data(p.data).join("circle")
        .attr("cx", (d) => x(d[0])).attr("cy", (d) => y(d[1])).attr("r", 3)
        .attr("fill", (d) => (!p.wtp || WTP * d[0] - d[1] > 0 ? NAVY : ORANGE));

      if (p.wtp) {
        const [x0, x1] = d3.extent(p.data, (d) => d[0]) as [number, number];
        g.append("line")
          .attr("x1", x(x0)).attr("y1", y(WTP * x0))
          .attr("x2", x(x1)).attr("y2", y(WTP * x1))
          .attr("stroke", "#111").attr("stroke-width", 1.2);
      }

      // axes
      g.append("line").attr("x1", p.left).attr("x2", p.left).attr("y1", p.top).attr("y2", p.bottom).attr("stroke", "#222");
      g.append("line").attr("x1", p.left).attr("x2", p.right).attr("y1", p.bottom).attr("y2", p.bottom).attr("stroke", "#222");

      g.append("g").selectAll("line").data(p.xTicks).join("line")
        .attr("x1", (d) => x(d)).attr("x2", (d) => x(d)).attr("y1", p.bottom).attr("y2", p.bottom + 6).attr("stroke", "#222");
      g.append("g").selectAll("text").data(p.xTicks).join("text")
        .attr("x", (d) => x(d)).attr("y", p.bottom + 18.5)
        .attr("text-anchor", "middle").attr("font-family", SANS).attr("font-size", FS).attr("fill", "#111")
        .text((d, i) => p.xLabels[i]);

      g.append("g").selectAll("line").data(p.yTicks).join("line")
        .attr("x1", p.left - 6).attr("x2", p.left).attr("y1", (d) => y(d)).attr("y2", (d) => y(d)).attr("stroke", "#222");
      g.append("g").selectAll("text").data(p.yTicks).join("text")
        .attr("transform", (d) => `translate(${p.left - 10},${y(d)}) rotate(-90)`)
        .attr("text-anchor", "middle").attr("font-family", SANS).attr("font-size", FS).attr("fill", "#111")
        .text((d) => fmtCost(d));

      g.append("text")
        .attr("transform", `translate(${p.left - 34},${(p.top + p.bottom) / 2}) rotate(-90)`)
        .attr("text-anchor", "middle").attr("font-family", SANS).attr("font-size", FS).attr("fill", "#111")
        .text("Costs (USD)");
      g.append("text")
        .attr("x", (p.left + p.right) / 2).attr("y", p.bottom + 33)
        .attr("text-anchor", "middle").attr("font-family", SANS).attr("font-size", FS).attr("fill", "#111")
        .text("QALYs");

      // panel title
      g.append("text").attr("x", p.letterX).attr("y", p.baseY)
        .attr("font-family", "'Liberation Serif', 'Times New Roman', serif").attr("font-size", 30)
        .attr("textLength", p.letterW).attr("lengthAdjust", "spacingAndGlyphs").attr("fill", "#111")
        .text(p.letter);
      g.append("text").attr("x", p.titleX).attr("y", p.baseY)
        .attr("font-family", "Lato, 'Open Sans', sans-serif").attr("font-weight", 700).attr("font-size", 20.5)
        .attr("textLength", p.titleW).attr("lengthAdjust", "spacingAndGlyphs").attr("fill", "#000")
        .text(p.title);

      if (p.legend) {
        const L = p.legend;
        const lg = g.append("g");
        lg.append("rect").attr("x", L.x).attr("y", L.y).attr("width", L.w).attr("height", L.h)
          .attr("fill", "#fff").attr("stroke", "#6e6e6e").attr("stroke-width", 1.2);
        const row1 = L.y + 12.7;
        const row2 = L.y + 32;
        lg.append("circle").attr("cx", L.dotX).attr("cy", row1).attr("r", 2.3).attr("fill", NAVY);
        lg.append("circle").attr("cx", L.dotX).attr("cy", row2).attr("r", 2.3).attr("fill", ORANGE);
        lg.append("line").attr("x1", L.lineX1).attr("x2", L.lineX2).attr("y1", row1).attr("y2", row1)
          .attr("stroke", "#111").attr("stroke-width", 1.2);
        const items = [
          { x: L.textX, y: row1 + 5, t: legendLabels[0] },
          { x: L.textX, y: row2 + 5, t: legendLabels[1] },
          { x: L.wtpX, y: row1 + 5, t: legendLabels[2] },
        ];
        lg.selectAll("text").data(items).join("text")
          .attr("x", (d) => d.x).attr("y", (d) => d.y)
          .attr("font-family", SANS).attr("font-size", FS).attr("fill", "#111")
          .text((d) => d.t);
      }
    });
  }, []);

  return (
    <svg
      ref={ref}
      width={1290}
      height={891}
      viewBox="0 0 1290 891"
      style={{ position: "absolute", left: 0, top: 0 }}
    />
  );
}
